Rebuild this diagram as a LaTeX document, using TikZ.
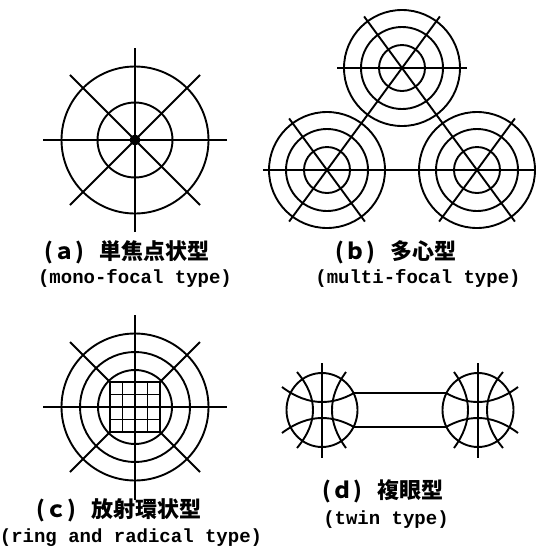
\documentclass[tikz,border=0pt]{standalone}
\usepackage{fontspec}
\usetikzlibrary{calc}
\newfontfamily\cjk{Noto Sans CJK JP}
\newfontfamily\enf{Liberation Mono}
\begin{document}
\begin{tikzpicture}[x=1pt,y=-1pt,line width=1.9pt,
  cjklabel/.style={font=\cjk\bfseries\fontsize{22}{26}\selectfont,inner sep=0pt},
  enlabel/.style={font=\enf\bfseries\fontsize{19}{22}\selectfont,inner sep=0pt}]
\useasboundingbox (0,0) rectangle (536,550);

% ---------- (a) mono-focal ----------
\coordinate (A) at (135,140);
\draw (A) circle (73.5) (A) circle (37.5);
\foreach \a in {0,45,90,135}
  \draw ([shift={(\a:92)}]A) -- ([shift={(\a+180:92)}]A);
\fill (A) circle (5.5);

% ---------- (b) multi-focal ----------
\coordinate (T) at (402,68);
\coordinate (BL) at (327,170);
\coordinate (BR) at (477,170);
\foreach \c in {T,BL,BR}
  \draw (\c) circle (58) (\c) circle (41) (\c) circle (23);
\draw ([shift={(233.68:64)}]T) -- ([shift={(53.68:64)}]BR);
\draw ([shift={(306.32:64)}]T) -- ([shift={(126.32:64)}]BL);
\draw ([shift={(233.68:64)}]BL) -- ([shift={(53.68:64)}]BL);
\draw ([shift={(306.32:64)}]BR) -- ([shift={(126.32:64)}]BR);
\draw ([shift={(-65,0)}]T) -- ([shift={(65,0)}]T);
\coordinate (bend) at (536,170);
\draw ([shift={(-64,0)}]BL) -- (bend);

% ---------- (c) ring and radical ----------
\coordinate (C) at (135,407);
\draw (C) circle (73.5) (C) circle (55) (C) circle (37);
\draw ([shift={(-92,0)}]C) -- ([shift={(92,0)}]C);
\draw ([shift={(0,-92)}]C) -- ([shift={(0,93)}]C);
\draw ([shift={(-25,-25)}]C) rectangle ([shift={(25,25)}]C);
\foreach \g in {-12.5,12.5}{
  \draw ([shift={(\g,-25)}]C) -- ([shift={(\g,25)}]C);
  \draw ([shift={(-25,\g)}]C) -- ([shift={(25,\g)}]C);
}
\foreach \sx/\sy in {1/1,1/-1,-1/1,-1/-1}
  \draw ([shift={(25*\sx,25*\sy)}]C) -- ([shift={(65*\sx,65*\sy)}]C);

% ---------- (d) twin ----------
\coordinate (DL) at (322,410);
\coordinate (DR) at (478,410);
\foreach \c/\xs in {DL/1,DR/-1}{
  \begin{scope}[shift={(\c)},xscale=\xs]
    \draw (0,0) ellipse (35.5 and 37);
    \draw (0,-47) -- (0,48);
    % top and bottom arcs
    \draw (-40,-23) .. controls (-26.67,-13) and (-13.33,-8) .. (0,-8)
          .. controls (10.67,-8) and (21.33,-11) .. (32,-17);
    \draw (-40,23) .. controls (-26.67,13) and (-13.33,8) .. (0,8)
          .. controls (10.67,8) and (21.33,11) .. (32,17);
    % outer-side and bar-side arcs
    \draw (-25,-38) .. controls (-14.33,-25.33) and (-9,-12.67) .. (-9,0)
          .. controls (-9,12.67) and (-14.33,25.33) .. (-25,38);
    \draw (24,-38) .. controls (14.67,-25.33) and (10,-12.67) .. (10,0)
          .. controls (10,12.67) and (14.67,25.33) .. (24,38);
  \end{scope}
}
\coordinate (b1) at (354,393);
\coordinate (b2) at (446,393);
\coordinate (b3) at (354,427);
\coordinate (b4) at (446,427);
\draw (b1) -- (b2);
\draw (b3) -- (b4);

% ---------- labels ----------
\node[cjklabel] (la) at (127,252) {(ａ)\hspace{15pt}単焦点状型};
\node[enlabel] (lae) at (135,278) {(mono-focal type)};
\node[cjklabel] (lb) at (396,252) {(ｂ)\hspace{15pt}多心型};
\node[enlabel] (lbe) at (418,278) {(multi-focal type)};
\node[cjklabel] (lc) at (119,510) {(ｃ)\hspace{15pt}放射環状型};
\node[enlabel] (lce) at (131,538) {(ring and radical type)};
\node[cjklabel] (ld) at (383,491) {(ｄ)\hspace{15pt}複眼型};
\node[enlabel] (lde) at (386,520) {(twin type)};
\end{tikzpicture}
\end{document}
